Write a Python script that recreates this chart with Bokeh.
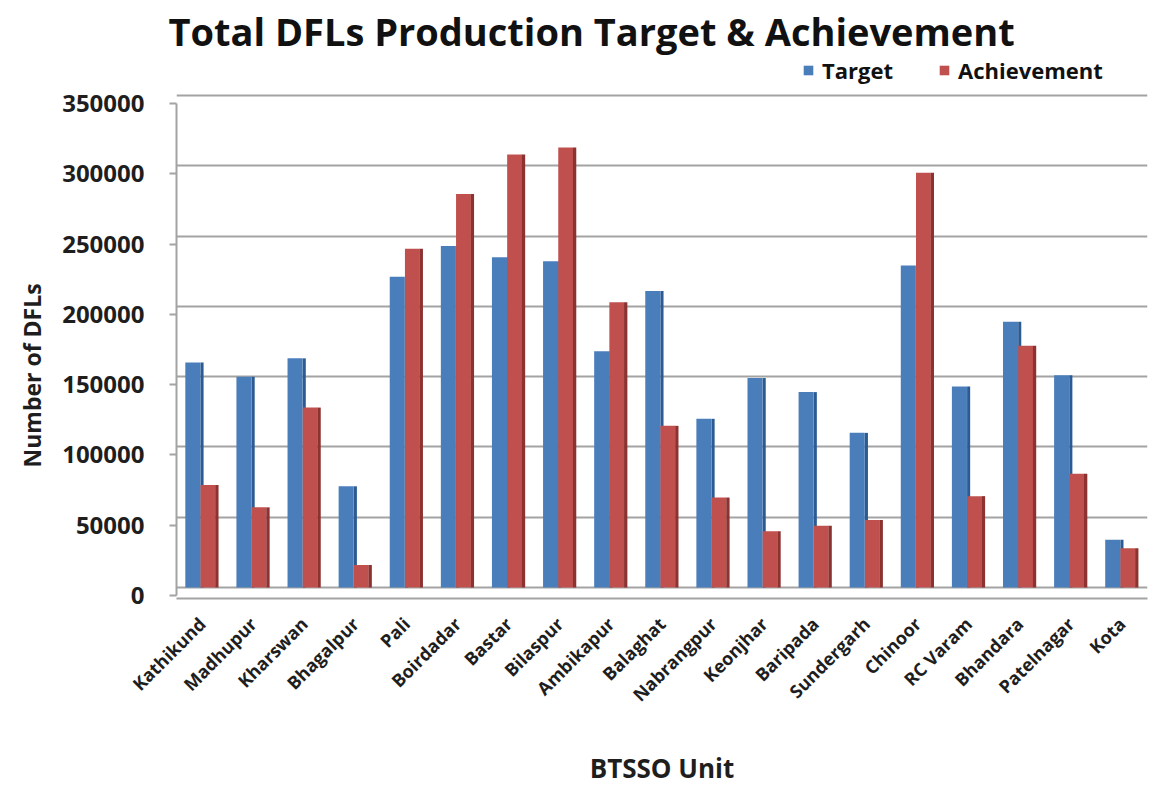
import math
from bokeh.plotting import figure
from bokeh.models import (ColumnDataSource, FixedTicker, Legend, LegendItem, NumeralTickFormatter,
                          Range1d, LinearAxis, Grid, Title)
from bokeh.transform import dodge
from bokeh.embed import file_html
from bokeh.resources import INLINE

units = ["Kathikund", "Madhupur", "Kharswan", "Bhagalpur", "Pali", "Boirdadar", "Bastar",
         "Bilaspur", "Ambikapur", "Balaghat", "Nabrangpur", "Keonjhar", "Baripada",
         "Sundergarh", "Chinoor", "RC Varam", "Bhandara", "Patelnagar", "Kota"]
target = [160000, 150000, 163000, 72000, 221000, 243000, 235000, 232000, 168000, 211000,
          120000, 149000, 139000, 110000, 229000, 143000, 189000, 151000, 34000]
achievement = [73000, 57000, 128000, 16000, 241000, 280000, 308000, 313000, 203000, 115000,
               64000, 40000, 44000, 48000, 295000, 65000, 172000, 81000, 28000]
y_ticks = [0, 50000, 100000, 150000, 200000, 250000, 300000, 350000]
title_text = "Total DFLs Production Target & Achievement"
y_title = "Number of DFLs"
x_title = "BTSSO Unit"

FONT = "Open Sans"
TXT = "#1e1e1e"
GRID = "#a3a3a3"

# frame: x 176..1147, y 56..598 ; value 0 at y=587, 350000 at y=95
k = 492 / 350000.0
y_lo = -11 / k
y_hi = 350000 + 39 / k
shift = 8 / k

p = figure(x_range=units, y_range=Range1d(y_lo, y_hi), width=1150, height=788,
           output_backend="svg", toolbar_location=None, y_axis_location=None,
           title=title_text,
           min_border_left=176, min_border_right=3, min_border_top=56, min_border_bottom=190)
p.outline_line_color = None
p.extra_y_ranges = {"lab": Range1d(y_lo + shift, y_hi + shift)}
for g in p.ygrid:
    g.visible = False

p.add_layout(Grid(dimension=1, ticker=FixedTicker(ticks=y_ticks),
                  grid_line_color=GRID, grid_line_width=2))

src = ColumnDataSource(dict(unit=units, target=target, achievement=achievement))

blue = p.vbar(x=dodge("unit", -0.18, range=p.x_range), top="target", width=0.295, source=src,
              fill_color="#4A7EBB", line_color=None)
p.vbar(x=dodge("unit", 0.0, range=p.x_range), top="target", width=0.06, source=src,
       fill_color="#2C5B94", line_color=None)
red = p.vbar(x=dodge("unit", 0.115, range=p.x_range), top="achievement", width=0.29, source=src,
             fill_color="#C0504D", line_color=None)
p.vbar(x=dodge("unit", 0.29, range=p.x_range), top="achievement", width=0.065, source=src,
       fill_color="#8C3331", line_color=None)

p.xgrid.grid_line_color = None

# y axis (labels sit slightly below the back-wall gridlines, as in the 3D original)
yax = LinearAxis(y_range_name="lab", ticker=FixedTicker(ticks=y_ticks),
                 formatter=NumeralTickFormatter(format="0"), bounds=(0, 350000))
yax.major_tick_line_color = GRID
yax.major_tick_line_width = 2
yax.major_tick_in = 0
yax.major_tick_out = 7
yax.minor_tick_line_color = None
yax.axis_line_color = GRID
yax.axis_line_width = 2
yax.major_label_text_font = FONT
yax.major_label_text_font_style = "bold"
yax.major_label_text_font_size = "24px"
yax.major_label_text_color = TXT
yax.major_label_standoff = 25
p.add_layout(yax, "left")

# y axis title as a side-panel title so it can be positioned along the axis
p.add_layout(Title(text=y_title, align="left", offset=131, vertical_align="top", standoff=19,
                   text_font=FONT, text_font_style="bold", text_font_size="23px",
                   text_color=TXT), "left")

# x axis
p.xaxis.major_tick_line_color = None
p.xaxis.minor_tick_line_color = None
p.xaxis.axis_line_color = GRID
p.xaxis.axis_line_width = 2
p.xaxis.major_label_orientation = math.pi / 4
p.xaxis.major_label_text_font = FONT
p.xaxis.major_label_text_font_style = "bold"
p.xaxis.major_label_text_font_size = "18px"
p.xaxis.major_label_text_color = TXT
p.xaxis.major_label_standoff = 16
p.xaxis.axis_label = x_title
p.xaxis.axis_label_text_font = FONT
p.xaxis.axis_label_text_font_style = "bold"
p.xaxis.axis_label_text_font_size = "26px"
p.xaxis.axis_label_text_color = TXT
p.xaxis.axis_label_standoff = 32

# main title
p.title.text_font = FONT
p.title.text_font_style = "bold"
p.title.text_font_size = "38px"
p.title.text_color = "#111111"
p.title.align = "left"
p.title.offset = -8
p.title.standoff = 0

legend = Legend(items=[LegendItem(label="Target", renderers=[blue]),
                       LegendItem(label="Achievement", renderers=[red])],
                orientation="horizontal", location=(626, 513),
                background_fill_alpha=0, border_line_color=None,
                glyph_width=12, glyph_height=12, label_standoff=8, spacing=45,
                padding=0, margin=0,
                label_text_font=FONT, label_text_font_style="bold",
                label_text_font_size="22px", label_text_color="#111111")
p.add_layout(legend)

open("out.html", "w").write(file_html(p, INLINE))
